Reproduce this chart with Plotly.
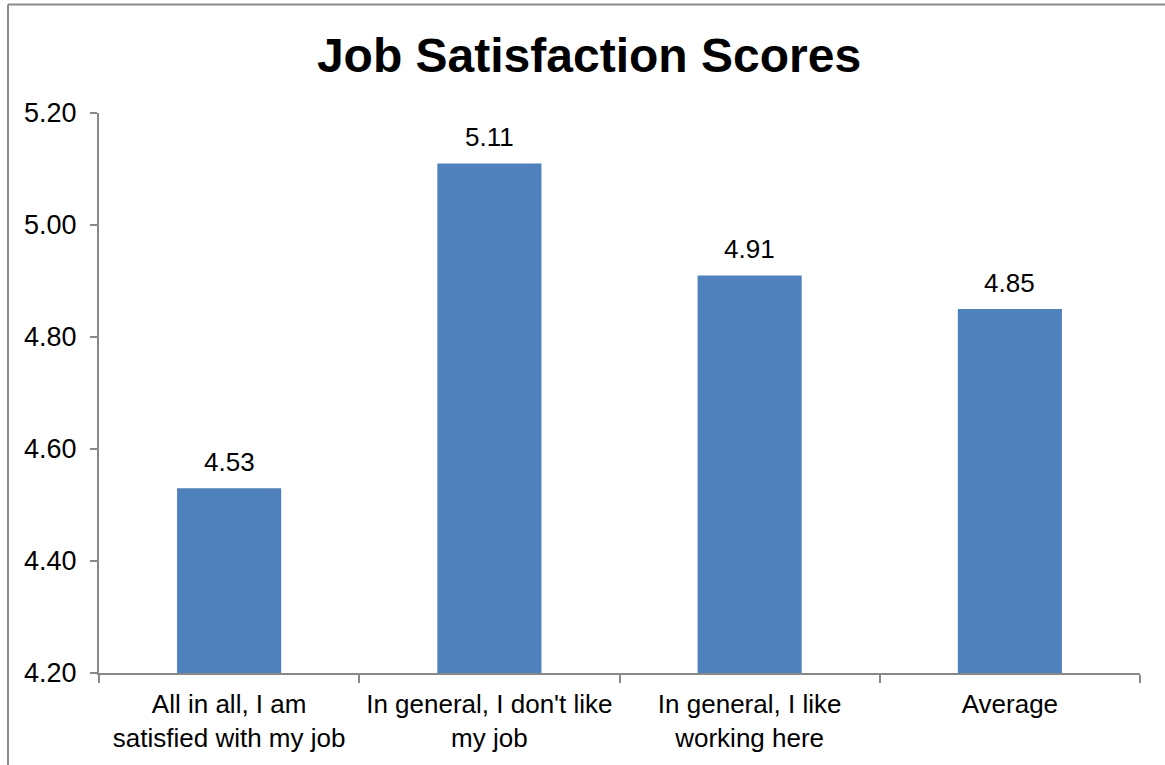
import plotly.graph_objects as go

categories = [
    "All in all, I am<br>satisfied with my job",
    "In general, I don't like<br>my job",
    "In general, I like<br>working here",
    "Average",
]
scores = [4.53, 5.11, 4.91, 4.85]
y_ticks = [4.20, 4.40, 4.60, 4.80, 5.00, 5.20]

FONT = "Liberation Sans, Arial, sans-serif"
BAR_COLOR = "#4F81BD"
AXIS_COLOR = "#888888"

fig = go.Figure()
fig.add_trace(
    go.Bar(
        x=categories,
        y=scores,
        marker=dict(color=BAR_COLOR, line=dict(width=0)),
        width=0.4,
        hoverinfo="skip",
    )
)

# value labels above each bar
for cat, val in zip(categories, scores):
    fig.add_annotation(
        x=cat, y=val, text=f"{val:.2f}", showarrow=False,
        yanchor="bottom", yshift=9,
        font=dict(family=FONT, size=26, color="black"),
    )

# chart frame (left and top edges)
L = (8 - 99) / 1041
T = (673 - 4.5) / 560
fig.add_shape(type="line", xref="paper", yref="paper", x0=L, x1=L, y0=T, y1=-0.3,
              line=dict(color="#898989", width=2))
fig.add_shape(type="line", xref="paper", yref="paper", x0=L, x1=1.1, y0=T, y1=T,
              line=dict(color="#898989", width=2))

fig.update_layout(
    width=1165,
    height=765,
    margin=dict(l=99, r=25, t=113, b=92),
    paper_bgcolor="white",
    plot_bgcolor="white",
    showlegend=False,
    bargap=0.6,
    title=dict(
        text="<b>Job Satisfaction Scores</b>",
        x=589 / 1165, xanchor="center", xref="container",
        y=1 - 55 / 765, yanchor="middle", yref="container",
        font=dict(family=FONT, size=48, color="black"),
    ),
    xaxis=dict(
        type="category",
        showline=True, linecolor=AXIS_COLOR, linewidth=2,
        ticks="outside", tickson="boundaries", ticklen=8,
        tickcolor=AXIS_COLOR, tickwidth=2,
        tickfont=dict(family=FONT, size=26, color="black"),
        ticklabelstandoff=7,
        showgrid=False, zeroline=False,
    ),
    yaxis=dict(
        range=[4.20, 5.20],
        tickvals=y_ticks,
        ticktext=[f"{v:.2f}" for v in y_ticks],
        showline=True, linecolor=AXIS_COLOR, linewidth=2,
        ticks="outside", ticklen=7, tickcolor=AXIS_COLOR, tickwidth=2,
        tickfont=dict(family=FONT, size=27, color="black"),
        ticklabelstandoff=8,
        showgrid=False, zeroline=False,
    ),
)

fig.write_html("out.html")
